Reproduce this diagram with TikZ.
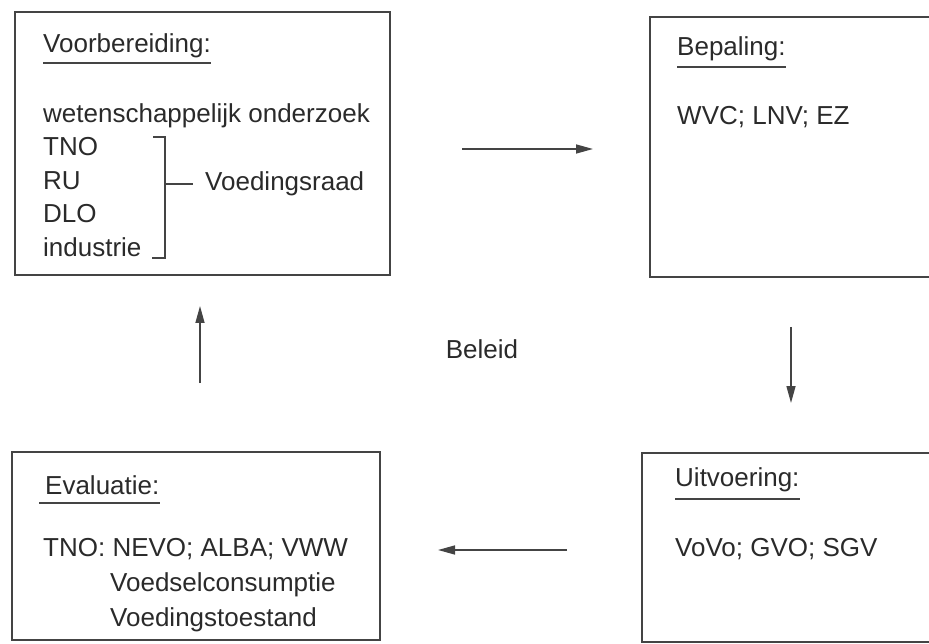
\documentclass[tikz,border=0pt]{standalone}
\usepackage{fontspec}
\setmainfont{Liberation Sans}
\usepackage{tikz}
\usetikzlibrary{arrows.meta, positioning}
\definecolor{InkGray}{HTML}{2A2A2A}
\definecolor{LineGray}{HTML}{444444}

\begin{document}
\begin{tikzpicture}[
    x=1pt, y=-1pt,
    font=\fontsize{26}{30}\selectfont,
    box/.style={rectangle, draw=LineGray, line width=1.5pt, inner sep=0pt},
    txt/.style={inner sep=0pt, anchor=base west, text=InkGray},
    uline/.style={line width=1.6pt, draw=LineGray},
    arr/.style={-{Triangle[length=17pt, width=9pt]}, line width=1.5pt, draw=LineGray}
]
    \useasboundingbox (0,0) rectangle (929,644);

    % Boxes
    \node[box, minimum width=375pt, minimum height=263pt] (prep) at (202.5,143.5) {};
    \node[box, minimum width=285pt, minimum height=260pt] (bep) at (792.5,147) {};
    \node[box, minimum width=368pt, minimum height=188pt] (eval) at (196,546) {};
    \node[box, minimum width=293pt, minimum height=189pt] (uitv) at (788.5,547.5) {};

    % Voorbereiding
    \node[txt] (prepT) at (43,53) {Voorbereiding:};
    \draw[uline] (43,63) -- (prepT.east |- 0,63);
    \node[txt] (wet) at (43,123) {wetenschappelijk onderzoek};
    \node[txt] (tno) at (43,156) {TNO};
    \node[txt] (ru) at (43,190) {RU};
    \node[txt] (dlo) at (43,223) {DLO};
    \node[txt] (ind) at (43,257) {industrie};
    \node[txt] (raad) at (205,191) {Voedingsraad};
    \draw[uline] (153,137) -- (165,137) -- (165,258) -- (152,258);
    \draw[uline] (165,184) -- (193,184);

    % Bepaling
    \node[txt] (bepT) at (677,56) {Bepaling:};
    \draw[uline] (677,67) -- (bepT.east |- 0,67);
    \node[txt] (wvc) at (677,125) {WVC; LNV; EZ};

    % Uitvoering
    \node[txt] (uitT) at (675,486) {Uitvoering:};
    \draw[uline] (675,499) -- (uitT.east |- 0,499);
    \node[txt] (vovo) at (675,556) {VoVo; GVO; SGV};

    % Evaluatie
    \node[txt] (evalT) at (45,494) {Evaluatie:};
    \draw[uline] (39,503) -- (evalT.east |- 0,503);
    \node[txt] (nevo) at (43,556) {TNO: NEVO; ALBA; VWW};
    \node[txt] (cons) at (110,591) {Voedselconsumptie};
    \node[txt] (toest) at (110,626) {Voedingstoestand};

    % Centre
    \node[txt, anchor=base] (beleid) at (482,359) {Beleid};

    % Connections
    \coordinate (p1) at (462,149);
    \coordinate (p2) at (593,149);
    \coordinate (p3) at (791,327);
    \coordinate (p4) at (791,403);
    \coordinate (p5) at (567,550);
    \coordinate (p6) at (438,550);
    \coordinate (p7) at (200,383);
    \coordinate (p8) at (200,306);
    \draw[arr] (p1) -- (p2);
    \draw[arr] (p3) -- (p4);
    \draw[arr] (p5) -- (p6);
    \draw[arr] (p7) -- (p8);
\end{tikzpicture}
\end{document}
